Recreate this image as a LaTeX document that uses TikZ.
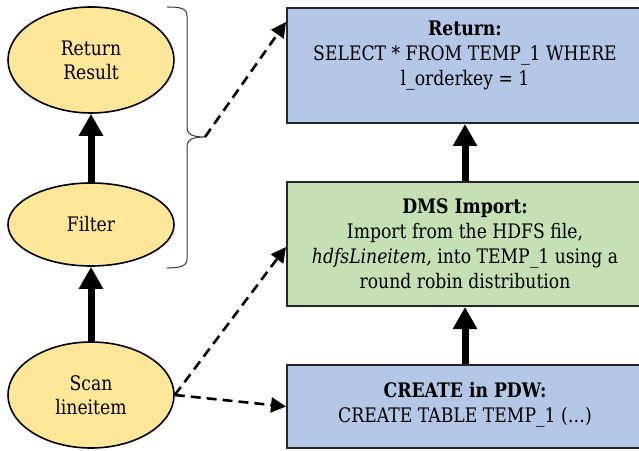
\documentclass[tikz,border=0pt]{standalone}
\usepackage{fontspec}
\setmainfont{DejaVu Serif}[FakeStretch=0.86]
\usetikzlibrary{arrows.meta,shapes.geometric,calc}
\definecolor{ellfill}{HTML}{FFE699}
\definecolor{bluefill}{HTML}{B4C7E7}
\definecolor{greenfill}{HTML}{C5E0B4}
\begin{document}
\begin{tikzpicture}[x=1bp,y=-1bp,
  every node/.style={font=\fontsize{20bp}{25bp}\selectfont},
  ell/.style={ellipse,draw=black,line width=1.6bp,fill=ellfill,inner sep=0pt,minimum width=166bp,align=center},
  opbox/.style={rectangle,draw=black!85,line width=2bp,inner sep=0pt,minimum width=356bp},
  txt/.style={align=center,inner sep=0pt},
  bigarrow/.style={line width=7bp,-{Triangle[width=23bp,length=22bp]}},
  dasharrow/.style={line width=2.6bp,dash pattern=on 10bp off 6bp,-{Triangle[width=15bp,length=15bp]}}]
\useasboundingbox (0,0) rectangle (639,451);
% ellipses
\node[ell,minimum height=106bp] (rr) at (91,60) {Return\\[-1bp]Result};
\node[ell,minimum height=83bp] (filter) at (91,224.5) {Filter};
\node[ell,minimum height=106bp] (scan) at (91,395) {Scan\\[-1bp]lineitem};
\draw[bigarrow] (filter.north) -- (rr.south);
\draw[bigarrow] (scan.north) -- (filter.south);
% boxes
\node[opbox,fill=bluefill,minimum height=115bp] (ret) at (465,65.5) {};
\node[txt] (rettext) at (465,56) {\textbf{Return:}\\SELECT * FROM TEMP\_1 WHERE\\l\_orderkey = 1};
\node[opbox,fill=greenfill,minimum height=124bp] (gr) at (465,244) {};
\node[txt] (grtext) at (465,244) {\textbf{DMS Import:}\\Import from the HDFS file,\\\textit{hdfsLineitem,} into TEMP\_1 using a\\round robin distribution};
\node[opbox,fill=bluefill,minimum height=83bp] (cr) at (465,406.5) {};
\node[txt] (crtext) at (465,405) {\textbf{CREATE in PDW:}\\CREATE TABLE TEMP\_1 (\dots)};
\draw[bigarrow] (gr.north) -- (ret.south);
\draw[bigarrow] (cr.north) -- (gr.south);
% brace
\draw[line width=1bp,black!80] (167,7) .. controls (180,7) and (187,8) .. (187,16) -- (187,128)
  .. controls (187,134) and (192,137) .. (205,137)
  .. controls (192,137) and (187,140) .. (187,146) -- (187,259)
  .. controls (187,266) and (180,268) .. (167,268);
\coordinate (tip) at (205,137);
\draw[dasharrow] (tip) -- ($(ret.north west)+(0,15)$);
\draw[dasharrow] (scan.east) -- ($(gr.west)+(0,3)$);
\draw[dasharrow] (scan.east) -- (cr.west);
\end{tikzpicture}
\end{document}
